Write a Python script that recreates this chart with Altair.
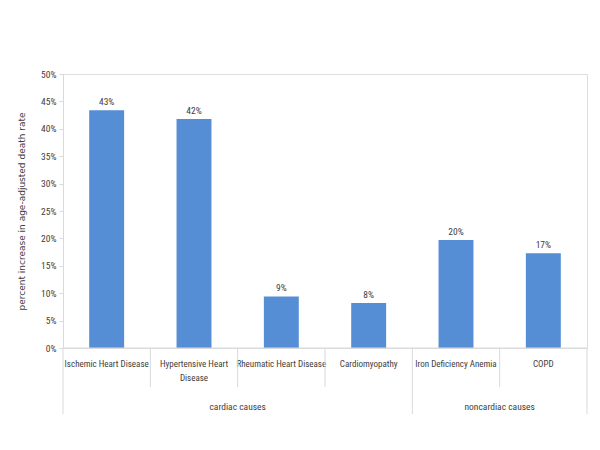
import altair as alt
import pandas as pd

categories = ["Ischemic Heart Disease", "Hypertensive Heart\nDisease", "Rheumatic Heart Disease",
              "Cardiomyopathy", "Iron Deficiency Anemia", "COPD"]
values = [0.434, 0.418, 0.094, 0.082, 0.197, 0.173]
groups = ["cardiac causes", "cardiac causes", "cardiac causes", "cardiac causes",
          "noncardiac causes", "noncardiac causes"]
y_ticks = [0, 0.05, 0.10, 0.15, 0.20, 0.25, 0.30, 0.35, 0.40, 0.45, 0.50]

group_names = ["cardiac causes", "noncardiac causes"]
group_anchor = ["Rheumatic Heart Disease", "COPD"]  # group centre = left edge of this category
long_sep_left = ["Ischemic Heart Disease", "Iron Deficiency Anemia"]
long_sep_right = ["COPD"]
short_sep = ["Hypertensive Heart\nDisease", "Rheumatic Heart Disease", "Cardiomyopathy", "COPD"]

df = pd.DataFrame({"cat": categories, "value": values, "group": groups})
gdf = pd.DataFrame({"group": group_names, "cat": group_anchor})

W, H = 524, 274
FONT = "Roboto Condensed, Noto Sans ExtraCondensed, Noto Sans Condensed, DejaVu Sans Condensed"
FS = 9.5
TXT = "#404040"
LINE = "#d9d9d9"

xscale = alt.Scale(domain=categories, paddingInner=0, paddingOuter=0)
yscale = alt.Scale(domain=[0, 0.5], nice=False)
yaxis = alt.Axis(values=y_ticks, format=".0%", grid=False, labelOverlap=False,
                 title="percent increase in age-adjusted death rate",
                 titleFont="DejaVu Sans", titleFontSize=9, titleFontWeight="normal",
                 titleColor=TXT, titlePadding=14,
                 labelFont=FONT, labelFontSize=FS, labelColor=TXT, labelPadding=3,
                 domainColor=LINE, tickColor=LINE, tickSize=4)


def X(band=0.5):
    return alt.X("cat:N", scale=xscale, axis=None, sort=categories, bandPosition=band)


def Y():
    return alt.Y("value:Q", scale=yscale, axis=yaxis)


base = alt.Chart(df)

bars = base.mark_bar(width=alt.RelativeBandSize(0.4), color="#558ed5").encode(x=X(), y=Y())

vlabels = base.mark_text(baseline="bottom", dy=-3, font=FONT, fontSize=FS, color=TXT).encode(
    x=X(), y=Y(), text=alt.Text("value:Q", format=".0%"),
)

clabels = base.mark_text(baseline="top", lineBreak="\n", lineHeight=14, font=FONT,
                         fontSize=9, color=TXT).encode(
    x=X(), y=alt.value(360 - 74), text="cat:N",
)

baseline = alt.Chart(pd.DataFrame({"value": [0]})).mark_rule(color=LINE, strokeWidth=1).encode(
    x=alt.value(0), x2=alt.value(W), y=Y(),
)

short_rules = alt.Chart(pd.DataFrame({"cat": short_sep})).mark_rule(color=LINE).encode(
    x=X(0), y=alt.value(H), y2=alt.value(387 - 74),
)
long_rules_l = alt.Chart(pd.DataFrame({"cat": long_sep_left})).mark_rule(color=LINE).encode(
    x=X(0), y=alt.value(H), y2=alt.value(414 - 74),
)
long_rules_r = alt.Chart(pd.DataFrame({"cat": long_sep_right})).mark_rule(color=LINE).encode(
    x=X(1), y=alt.value(H), y2=alt.value(414 - 74),
)

glabels = alt.Chart(gdf).mark_text(baseline="middle", font=FONT, fontSize=FS, color=TXT).encode(
    x=X(0), y=alt.value(407 - 74), text="group:N",
)

chart = alt.layer(
    bars, vlabels, clabels, baseline, short_rules, long_rules_l, long_rules_r, glabels
).properties(
    width=W, height=H,
    autosize=alt.AutoSizeParams(type="none"),
    padding={"left": 55, "top": 66, "right": 5, "bottom": 90},
).configure_view(stroke=None).configure(background="white")

chart.save("out.html", embed_options={"renderer": "svg", "actions": False})
